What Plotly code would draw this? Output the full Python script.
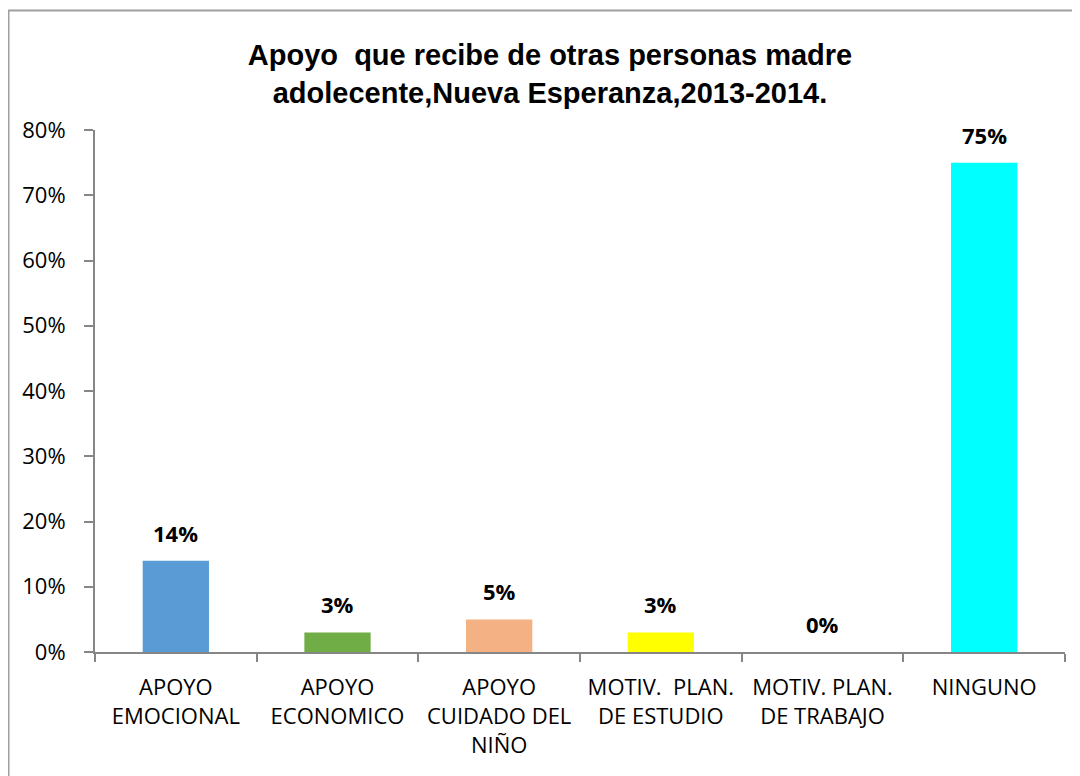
import plotly.graph_objects as go

categories = ["APOYO<br>EMOCIONAL", "APOYO<br>ECONOMICO", "APOYO<br>CUIDADO DEL<br>NIÑO",
              "MOTIV.  PLAN.<br>DE ESTUDIO", "MOTIV. PLAN.<br>DE TRABAJO", "NINGUNO"]
values = [0.14, 0.03, 0.05, 0.03, 0.00, 0.75]
labels = ["14%", "3%", "5%", "3%", "0%", "75%"]
colors = ["#5B9BD5", "#70AD47", "#F4B183", "#FFFF00", "#FFFFFF", "#00FFFF"]
y_ticks = [0, 0.1, 0.2, 0.3, 0.4, 0.5, 0.6, 0.7, 0.8]
y_tick_text = ["0%", "10%", "20%", "30%", "40%", "50%", "60%", "70%", "80%"]

font_fam = "'Open Sans', Lato, sans-serif"

fig = go.Figure(go.Bar(
    x=categories, y=values, marker_color=colors, marker_line_width=0,
    hoverinfo="x+y",
))

# data labels above bars
for c, v, t in zip(categories, values, labels):
    fig.add_annotation(
        x=c, y=v, text=f"<b>{t}</b>", showarrow=False,
        yanchor="bottom", yshift=11,
        font=dict(family=font_fam, size=22, color="black"),
    )

# page body has an 8px margin: the figure occupies (8..1080, 8..776)
OFF = 8
W, H = 1080 - OFF, 776 - OFF
L, R, T, B = 95 - OFF, 15, 130 - OFF, 124
pw, ph = W - L - R, H - T - B

fig.update_layout(
    width=W, height=H,
    margin=dict(l=L, r=R, t=T, b=B, pad=0, autoexpand=False),
    paper_bgcolor="white", plot_bgcolor="white",
    bargap=0.59,
    showlegend=False,
    title=dict(
        text="<b>Apoyo  que recibe de otras personas madre<br>adolecente,Nueva Esperanza,2013-2014.</b>",
        x=(550 - OFF) / W, xanchor="center", y=1 - (65 - OFF) / H, yanchor="middle",
        font=dict(family="'Liberation Sans Narrow', 'Arial Narrow', 'Liberation Sans', sans-serif",
                  size=29, color="black"),
    ),
    xaxis=dict(
        showline=True, linecolor="#868686", linewidth=2,
        ticks="outside", tickson="boundaries", ticklen=8, tickcolor="#868686", tickwidth=2,
        tickfont=dict(family=font_fam, size=22, color="black"),
        tickangle=0, automargin=False,
        ticklabelstandoff=15,
        showgrid=False,
    ),
    yaxis=dict(
        range=[0, 0.8], tickvals=y_ticks, ticktext=y_tick_text,
        showline=True, linecolor="#868686", linewidth=2,
        ticks="outside", ticklen=9, tickcolor="#868686", tickwidth=2,
        tickfont=dict(family=font_fam, size=22, color="black"),
        automargin=False,
        ticklabelstandoff=14,
        showgrid=False, zeroline=False,
    ),
    shapes=[dict(
        type="rect", xref="paper", yref="paper",
        x0=(0.5 - L) / pw, x1=(W + 20 - L) / pw,
        y0=-(B + 20) / ph, y1=1 + (T - 2.5) / ph,
        line=dict(color="#A0A0A0", width=2), fillcolor="rgba(0,0,0,0)", layer="below",
    )],
)

fig.write_html("out.html")
